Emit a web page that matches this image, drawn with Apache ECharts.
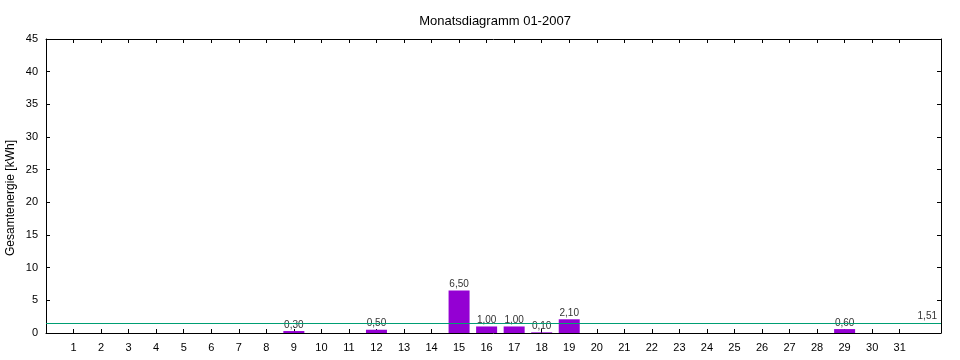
<!DOCTYPE html>
<html><head><meta charset="utf-8">
<script src="https://cdn.jsdelivr.net/npm/echarts@6/dist/echarts.min.js"></script>
<style>html,body{margin:0;padding:0;background:#fff}#c{width:960px;height:360px}</style>
</head><body><div id="c"></div>
<script>
const title = 'Monatsdiagramm 01-2007';
const yName = 'Gesamtenergie [kWh]';
const days = [9, 12, 15, 16, 17, 18, 19, 29];
const values = [0.30, 0.50, 6.50, 1.00, 1.00, 0.10, 2.10, 0.60];
const average = 1.51;
const dayTicks = [];
for (let d = 1; d <= 31; d++) dayTicks.push(d);

const fmt = v => v.toFixed(2).replace('.', ',');
const font = 'Liberation Sans, Arial, sans-serif';
const chart = echarts.init(document.getElementById('c'));
const tickStyle = {show: true, inside: true, length: 4, lineStyle: {color: '#000', width: 1}};
chart.setOption({
  animation: false,
  title: {text: title, left: 490, top: 10, textAlign: 'center',
    textStyle: {fontFamily: font, fontSize: 13, fontWeight: 'normal', color: '#000'}},
  grid: {left: 46, right: 19, top: 39, bottom: 27, outerBoundsMode: 'none', containLabel: false},
  xAxis: [{
    type: 'value', min: 0, max: 32.5, interval: 1,
    axisLine: {show: true, onZero: false, lineStyle: {color: '#000', width: 1}},
    axisTick: Object.assign({}, tickStyle, {customValues: dayTicks}),
    axisLabel: {customValues: dayTicks, fontFamily: font, fontSize: 11, color: '#000', margin: 9},
    splitLine: {show: false}
  }, {
    type: 'value', position: 'top', min: 0, max: 32.5, interval: 1,
    axisLine: {show: true, onZero: false, lineStyle: {color: '#000', width: 1}},
    axisTick: Object.assign({}, tickStyle, {customValues: dayTicks}),
    axisLabel: {show: false}, splitLine: {show: false}
  }],
  yAxis: [{
    type: 'value', min: 0, max: 45, interval: 5,
    name: yName, nameLocation: 'middle', nameGap: 29, nameMoveOverlap: false,
    nameTextStyle: {fontFamily: font, fontSize: 12, color: '#000', padding: [0, 24, 0, 0]},
    axisLine: {show: true, onZero: false, lineStyle: {color: '#000', width: 1}},
    axisTick: tickStyle,
    axisLabel: {fontFamily: font, fontSize: 11, color: '#000', margin: 8},
    splitLine: {show: false}
  }, {
    type: 'value', position: 'right', min: 0, max: 45, interval: 5,
    axisLine: {show: true, onZero: false, lineStyle: {color: '#000', width: 1}},
    axisTick: tickStyle, axisLabel: {show: false}, splitLine: {show: false}
  }],
  series: [{
    type: 'bar', barWidth: 21,
    data: days.map((d, i) => [d, values[i]]),
    itemStyle: {color: '#9400d3'},
    label: {show: true, position: 'top', distance: 1, fontFamily: font, fontSize: 10, color: '#333',
      formatter: p => fmt(p.value[1])},
    markLine: {
      silent: true, symbol: 'none',
      itemStyle: {color: '#009e73'},
      lineStyle: {color: '#009e73', width: 1, type: 'solid', opacity: 1},
      label: {show: true, position: 'insideEndTop', formatter: fmt(average), fontFamily: font, fontSize: 10, color: '#333', distance: [4, 2]},
      data: [{yAxis: average, lineStyle: {color: '#009e73'}}]
    }
  }]
});
</script></body></html>
